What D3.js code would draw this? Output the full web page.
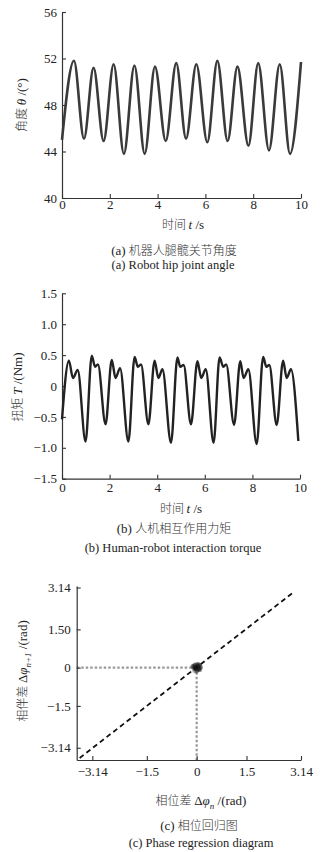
<!DOCTYPE html>
<html>
<head>
<meta charset="utf-8">
<script src="https://cdn.jsdelivr.net/npm/d3@7"></script>
<style>
body { margin: 0; background: #fff; }
svg text { font-family: "Liberation Serif", "Times New Roman", "Noto Sans CJK SC", serif; fill: #222; }
.cjk { font-family: "Noto Sans CJK SC", sans-serif; font-weight: 300; font-size: 12px; fill: #333; }
</style>
</head>
<body>
<script>
var w = 330;
var h = 852;

// (a) hip joint angle - peaks and troughs
var angleT = [0, 0.50, 0.92, 1.32, 1.74, 2.16, 2.59, 3.03, 3.46, 3.89, 4.34, 4.78, 5.19, 5.62, 6.08, 6.50, 6.93, 7.34, 7.80, 8.21, 8.66, 9.11, 9.54, 10];
var angleV = [45.0, 51.8, 45.1, 51.2, 44.9, 51.5, 43.8, 51.4, 43.8, 51.3, 44.9, 51.6, 45.1, 51.5, 44.8, 51.8, 44.9, 51.3, 44.5, 51.6, 44.1, 51.5, 43.8, 51.7];
var angleTicks = [40, 44, 48, 52, 56];
var timeTicks = [0, 2, 4, 6, 8, 10];

// (b) interaction torque
var torqueT = [0, 0.29, 0.46, 0.66, 0.99, 1.25, 1.39, 1.51, 1.83, 2.09, 2.25, 2.44, 2.79, 3.05, 3.19, 3.32, 3.63, 3.89, 4.05, 4.22, 4.58, 4.85, 4.97, 5.11, 5.42, 5.69, 5.85, 6.04, 6.37, 6.62, 6.78, 6.90, 7.23, 7.49, 7.63, 7.83, 8.18, 8.45, 8.59, 8.71, 9.02, 9.29, 9.44, 9.62, 9.93];
var torqueV = [-0.54, 0.41, 0.13, 0.26, -0.90, 0.49, 0.31, 0.35, -0.62, 0.42, 0.13, 0.29, -0.90, 0.47, 0.31, 0.35, -0.62, 0.41, 0.13, 0.27, -0.92, 0.46, 0.31, 0.34, -0.62, 0.40, 0.13, 0.27, -0.92, 0.46, 0.31, 0.35, -0.63, 0.40, 0.13, 0.27, -0.94, 0.47, 0.31, 0.34, -0.63, 0.41, 0.13, 0.27, -0.89];
var torqueTicks = [-1.5, -1, -0.5, 0, 0.5, 1, 1.5];
var torqueLabels = ["\u22121.5", "\u22121.0", "\u22120.5", "0", "0.5", "1.0", "1.5"];

// (c) phase regression - cluster around the origin
var phaseX = [-0.10, -0.06, -0.03, 0.00, 0.03, 0.06, 0.09, 0.12, -0.08, -0.04, 0.01, 0.05, 0.08, -0.12, 0.10, -0.02, 0.04, -0.06, 0.07, 0.00, -0.09, 0.02, 0.11, -0.05, 0.06];
var phaseY = [0.02, 0.08, -0.05, 0.10, 0.04, -0.08, 0.06, 0.00, -0.03, 0.12, -0.10, 0.11, -0.04, 0.05, -0.09, 0.03, 0.14, -0.12, 0.09, -0.15, 0.07, -0.02, 0.03, 0.00, -0.06];
var diagX = [-3.52, 2.92];
var diagY = [-3.54, 2.96];
var phaseTicksX = [-3.14, -1.5, 0, 1.5, 3.14];
var phaseLabelsX = ["\u22123.14", "\u22121.5", "0", "1.5", "3.14"];
var phaseTicksY = [-3.14, -1.5, 0, 1.5, 3.14];
var phaseLabelsY = ["\u22123.14", "\u22121.5", "0", "1.50", "3.14"];

var svg = d3.select("body").append("svg").attr("width", w).attr("height", h);

function styleAxis(g, size) {
    g.selectAll("path.domain").attr("stroke", "#333").attr("stroke-width", 1.2);
    g.selectAll(".tick line").attr("stroke", "#333").attr("stroke-width", 1.1);
    g.selectAll(".tick text").attr("font-size", size).attr("fill", "#222")
        .style("font-family", '"Liberation Serif", serif');
}

function addText(x, y, parts, size, rotate) {
    var t = svg.append("text")
        .attr("font-size", size)
        .attr("text-anchor", "middle");
    if (rotate) t.attr("transform", "translate(" + x + "," + y + ") rotate(-90)");
    else t.attr("x", x).attr("y", y);
    parts.forEach(function (p) {
        var s = t.append("tspan").text(p.t);
        if (p.cjk) s.attr("class", "cjk");
        if (p.i) s.attr("font-style", "italic");
        if (p.dy) s.attr("dy", p.dy);
        if (p.fs) s.attr("font-size", p.fs);
    });
    return t;
}

// ---------- (a) ----------
var xa = d3.scaleLinear().domain([0, 10]).range([62, 301]);
var ya = d3.scaleLinear().domain([40, 56]).range([198, 12]);

var gxa = svg.append("g").attr("transform", "translate(0," + ya(40) + ")")
    .call(d3.axisBottom(xa).tickValues(timeTicks).tickSizeInner(-4).tickSizeOuter(0).tickPadding(2));
styleAxis(gxa, 13);
var gya = svg.append("g").attr("transform", "translate(" + xa(0) + ",0)")
    .call(d3.axisLeft(ya).tickValues(angleTicks).tickSizeInner(-4).tickSizeOuter(0).tickPadding(5));
styleAxis(gya, 13);

var lineA = d3.line()
    .x(function (d, i) { return xa(angleT[i]); })
    .y(function (d) { return ya(d); })
    .curve(d3.curveMonotoneX);
svg.append("path").attr("d", lineA(angleV))
    .attr("fill", "none").attr("stroke", "#3a3a3a").attr("stroke-width", 2.6);

addText(26, 105, [{t: "角度 ", cjk: 1}, {t: "θ", i: 1}, {t: " /(°)"}], 13, true);
addText(183, 229, [{t: "时间  ", cjk: 1}, {t: "t", i: 1}, {t: " /s"}], 13);
addText(174, 254.5, [{t: "(a) "}, {t: "机器人腿髋关节角度", cjk: 1}], 13);
addText(173, 268.5, [{t: "(a) Robot hip joint angle"}], 12.5);

// ---------- (b) ----------
var xb = d3.scaleLinear().domain([0, 10]).range([62, 300]);
var yb = d3.scaleLinear().domain([-1.5, 1.5]).range([478.7, 293.3]);

var gxb = svg.append("g").attr("transform", "translate(0," + yb(-1.5) + ")")
    .call(d3.axisBottom(xb).tickValues(timeTicks).tickSizeInner(-4).tickSizeOuter(0).tickPadding(4));
styleAxis(gxb, 13);
var gyb = svg.append("g").attr("transform", "translate(" + xb(0) + ",0)")
    .call(d3.axisLeft(yb).tickValues(torqueTicks).tickFormat(function (d, i) { return torqueLabels[i]; })
        .tickSizeInner(-4).tickSizeOuter(0).tickPadding(5));
styleAxis(gyb, 13);

var lineB = d3.line()
    .x(function (d, i) { return xb(torqueT[i]); })
    .y(function (d) { return yb(d); })
    .curve(d3.curveMonotoneX);
svg.append("path").attr("d", lineB(torqueV))
    .attr("fill", "none").attr("stroke", "#222").attr("stroke-width", 2.4);

addText(22, 387, [{t: "扭矩 ", cjk: 1}, {t: "T", i: 1}, {t: " /(Nm)"}], 13, true);
addText(181, 513, [{t: "时间  ", cjk: 1}, {t: "t", i: 1}, {t: " /s"}], 13);
addText(174, 533, [{t: "(b) "}, {t: "人机相互作用力矩", cjk: 1}], 13);
addText(173, 552, [{t: "(b) Human-robot interaction torque"}], 12.5);

// ---------- (c) ----------
var xc = d3.scaleLinear().domain([-3.61, 3.14]).range([76.7, 301]);
var yc = d3.scaleLinear().domain([-3.62, 3.2]).range([760, 586]);

// gray dotted guides to the origin
svg.append("line")
    .attr("x1", xc(-3.61)).attr("y1", yc(0)).attr("x2", xc(0)).attr("y2", yc(0))
    .attr("stroke", "#999").attr("stroke-width", 2.2).attr("stroke-dasharray", "2.5,2");
svg.append("line")
    .attr("x1", xc(0)).attr("y1", yc(0)).attr("x2", xc(0)).attr("y2", yc(-3.62))
    .attr("stroke", "#999").attr("stroke-width", 2.2).attr("stroke-dasharray", "2.5,2");

var gxc = svg.append("g").attr("transform", "translate(0," + yc(-3.62) + ")")
    .call(d3.axisBottom(xc).tickValues(phaseTicksX).tickFormat(function (d, i) { return phaseLabelsX[i]; })
        .tickSizeInner(-4).tickSizeOuter(0).tickPadding(7));
styleAxis(gxc, 13);
var gyc = svg.append("g").attr("transform", "translate(" + xc(-3.61) + ",0)")
    .call(d3.axisLeft(yc).tickValues(phaseTicksY).tickFormat(function (d, i) { return phaseLabelsY[i]; })
        .tickSizeInner(-4).tickSizeOuter(0).tickPadding(6));
styleAxis(gyc, 13);

svg.append("line")
    .attr("x1", xc(diagX[0])).attr("y1", yc(diagY[0]))
    .attr("x2", xc(diagX[1])).attr("y2", yc(diagY[1]))
    .attr("stroke", "#111").attr("stroke-width", 1.8).attr("stroke-dasharray", "5,3.5");

svg.append("g").selectAll("circle")
    .data(phaseX)
    .enter()
    .append("circle")
    .attr("cx", function (d) { return xc(d); })
    .attr("cy", function (d, i) { return yc(phaseY[i]); })
    .attr("r", 2.3)
    .attr("fill", "#111")
    .attr("fill-opacity", 0.35);

addText(27, 671, [{t: "相伴差 ", cjk: 1}, {t: "Δ"}, {t: "φ", i: 1}, {t: "n+1", i: 1, dy: "4", fs: 9}, {t: " /(rad)", dy: "-4"}], 13, true);
addText(201, 805, [{t: "相位差 ", cjk: 1}, {t: "Δ"}, {t: "φ", i: 1}, {t: "n", i: 1, dy: "4", fs: 9}, {t: " /(rad)", dy: "-4"}], 13);
addText(199, 829.5, [{t: "(c) "}, {t: "相位回归图", cjk: 1}], 13);
addText(201, 846.5, [{t: "(c) Phase regression diagram"}], 12.5);
</script>
</body>
</html>
